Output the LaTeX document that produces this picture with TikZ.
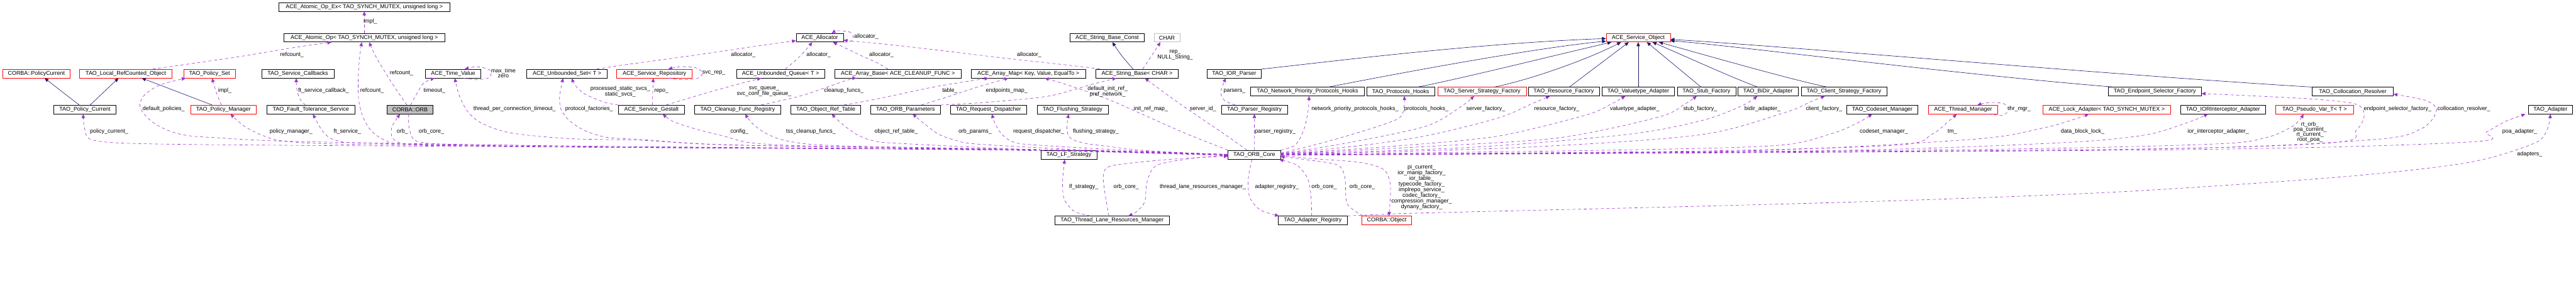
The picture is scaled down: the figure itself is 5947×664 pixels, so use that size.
\documentclass[tikz,border=0pt]{standalone}
\usepackage{fontspec}
\setmainfont{Liberation Sans}
\usetikzlibrary{arrows.meta}
\definecolor{depc}{HTML}{9A32CD}
\definecolor{inhc}{HTML}{191970}
\definecolor{greyc}{HTML}{BFBFBF}
\newcommand{\dfs}{\fontsize{13pt}{11.6pt}\selectfont}
\tikzset{
  box/.style={draw=black, line width=1pt, inner sep=0pt, minimum height=20pt, font=\dfs},
  rbox/.style={box, draw=red},
  lbl/.style={font=\dfs, inner sep=0pt, align=center},
  dep/.style={draw=depc, line width=0.9pt, dash pattern=on 7pt off 6pt, -{Triangle[length=9pt,width=8pt]}},
  inh/.style={draw=inhc, line width=0.9pt, -{Triangle[length=9pt,width=8pt]}},
  sm/.style={smooth, tension=0.5}
}
\begin{document}
\begin{tikzpicture}[x=1pt,y=-1pt]
\useasboundingbox (0,0) rectangle (5947,664);
% ---------------- nodes
\node[box, minimum width=394pt] (atomicex) at (841,16) {ACE\_Atomic\_Op\_Ex< TAO\_SYNCH\_MUTEX, unsigned long >};
\node[box, minimum width=372pt] (atomic) at (841,87) {ACE\_Atomic\_Op< TAO\_SYNCH\_MUTEX, unsigned long >};
\node[box, minimum width=109pt] (alloc) at (1892.5,87) {ACE\_Allocator};
\node[box, minimum width=172pt] (strconst) at (2556,87) {ACE\_String\_Base\_Const};
\node[box, draw=greyc, minimum width=60pt] (charn) at (2694,87) {CHAR};
\node[rbox, minimum width=148pt] (svcobj) at (3782,87) {ACE\_Service\_Object};

\node[rbox, minimum width=156pt] (polcurc) at (84,170) {CORBA::PolicyCurrent};
\node[rbox, minimum width=213pt] (localrc) at (290.5,170) {TAO\_Local\_RefCounted\_Object};
\node[rbox, minimum width=119pt] (polset) at (483.5,170) {TAO\_Policy\_Set};
\node[box, minimum width=167pt] (svccb) at (687.5,170) {TAO\_Service\_Callbacks};
\node[box, minimum width=128pt] (timeval) at (1046,170) {ACE\_Time\_Value};
\node[box, minimum width=186pt] (uset) at (1309,170) {ACE\_Unbounded\_Set< T >};
\node[rbox, minimum width=174pt] (svcrep) at (1511,170) {ACE\_Service\_Repository};
\node[box, minimum width=204pt] (uqueue) at (1802,170) {ACE\_Unbounded\_Queue< T >};
\node[box, minimum width=292pt] (abase) at (2073,170) {ACE\_Array\_Base< ACE\_CLEANUP\_FUNC >};
\node[box, minimum width=264pt] (amap) at (2374,170) {ACE\_Array\_Map< Key, Value, EqualTo >};
\node[box, minimum width=190pt] (strbase) at (2625,170) {ACE\_String\_Base< CHAR >};
\node[box, minimum width=126pt] (iorparser) at (2849,170) {TAO\_IOR\_Parser};

\node[box, minimum width=263pt] (netprio) at (3018.5,211.5) {TAO\_Network\_Priority\_Protocols\_Hooks};
\node[box, minimum width=157pt] (prothooks) at (3233.5,211.5) {TAO\_Protocols\_Hooks};
\node[rbox, minimum width=205pt] (serverfac) at (3421.5,211.5) {TAO\_Server\_Strategy\_Factory};
\node[box, minimum width=164pt] (resfac) at (3610,211.5) {TAO\_Resource\_Factory};
\node[box, minimum width=168pt] (valadapt) at (3782,211.5) {TAO\_Valuetype\_Adapter};
\node[box, minimum width=135pt] (stubfac) at (3939.5,211.5) {TAO\_Stub\_Factory};
\node[box, minimum width=139pt] (bidir) at (4081.5,211.5) {TAO\_BiDir\_Adapter};
\node[box, minimum width=198pt] (clientfac) at (4257,211.5) {TAO\_Client\_Strategy\_Factory};
\node[box, minimum width=215pt] (endpsel) at (4974.5,211.5) {TAO\_Endpoint\_Selector\_Factory};
\node[box, minimum width=187pt] (colloc) at (5431.5,211.5) {TAO\_Collocation\_Resolver};

\node[box, minimum width=144pt] (polcur) at (196,253) {TAO\_Policy\_Current};
\node[rbox, minimum width=152pt] (polman) at (516,253) {TAO\_Policy\_Manager};
\node[box, minimum width=203pt] (ftsvc) at (717.5,253) {TAO\_Fault\_Tolerance\_Service};
\node[box, fill=greyc, minimum width=105pt] (orb) at (946.5,253) {CORBA::ORB};
\node[box, minimum width=152pt] (gestalt) at (1504,253) {ACE\_Service\_Gestalt};
\node[box, minimum width=198pt] (cleanup) at (1703,253) {TAO\_Cleanup\_Func\_Registry};
\node[box, minimum width=161pt] (objref) at (1906.5,253) {TAO\_Object\_Ref\_Table};
\node[box, minimum width=161pt] (orbparams) at (2090.5,253) {TAO\_ORB\_Parameters};
\node[box, minimum width=176pt] (reqdisp) at (2282,253) {TAO\_Request\_Dispatcher};
\node[box, minimum width=164pt] (flushing) at (2476,253) {TAO\_Flushing\_Strategy};
\node[box, minimum width=152pt] (parserreg) at (2896,253) {TAO\_Parser\_Registry};
\node[box, minimum width=165pt] (codeset) at (4345.5,253) {TAO\_Codeset\_Manager};
\node[rbox, minimum width=160pt] (thrmgr) at (4532,253) {ACE\_Thread\_Manager};
\node[rbox, minimum width=295pt] (lockad) at (4863.5,253) {ACE\_Lock\_Adapter< TAO\_SYNCH\_MUTEX >};
\node[box, minimum width=196pt] (iorint) at (5132,253) {TAO\_IORInterceptor\_Adapter};
\node[rbox, minimum width=181pt] (pseudo) at (5343.5,253) {TAO\_Pseudo\_Var\_T< T >};
\node[box, minimum width=102pt] (adapter) at (5888,253) {TAO\_Adapter};

\node[box, minimum width=129pt, minimum height=21pt] (lfstrat) at (2467.5,357.5) {TAO\_LF\_Strategy};
\node[box, minimum width=121pt, minimum height=21pt] (core) at (2895.5,357.5) {TAO\_ORB\_Core};

\node[box, minimum width=265pt] (tlrm) at (2567.5,509) {TAO\_Thread\_Lane\_Resources\_Manager};
\node[box, minimum width=159pt] (adreg) at (3030.5,509) {TAO\_Adapter\_Registry};
\node[rbox, minimum width=115pt] (corbaobj) at (3201.5,509) {CORBA::Object};

% ---------------- inheritance edges
\draw[inh] ([xshift=-13pt]polcur.north) -- ([xshift=19pt]polcurc.south);
\draw[inh] ([xshift=12pt]polcur.north) -- ([xshift=-17pt]localrc.south);
\draw[inh] ([xshift=-26pt]polman.north) -- ([xshift=37pt]localrc.south);
\draw[inh] ([xshift=-9pt]strbase.north) .. controls (2590,130) .. ([xshift=12pt]strconst.south);
\draw[inh] (iorparser.north east) .. controls (3050,145) and (3400,100) .. ([yshift=-2pt]svcobj.west);
\draw[inh] ([xshift=48.5pt]netprio.north) .. controls (3250,165) and (3550,110) .. ([yshift=-8pt]svcobj.west);
\draw[inh] ([xshift=39.5pt]prothooks.north) .. controls (3380,180) and (3600,125) .. ([xshift=-62pt]svcobj.south);
\draw[inh] ([xshift=28.5pt]serverfac.north) .. controls (3550,180) and (3680,130) .. ([xshift=-40pt]svcobj.south);
\draw[inh] ([xshift=13pt]resfac.north) -- ([xshift=-22pt]svcobj.south);
\draw[inh] (valadapt.north) -- (svcobj.south);
\draw[inh] ([xshift=-12.5pt]stubfac.north) -- ([xshift=20pt]svcobj.south);
\draw[inh] ([xshift=-23.5pt]bidir.north) .. controls (4000,180) and (3880,125) .. ([xshift=33pt]svcobj.south);
\draw[inh] ([xshift=-39pt]clientfac.north) .. controls (4120,180) and (3930,125) .. ([xshift=48pt]svcobj.south);
\draw[inh] ([xshift=-94.5pt]endpsel.north) .. controls (4500,170) and (4000,105) .. ([yshift=-7pt]svcobj.east);
\draw[inh] (colloc.north west) .. controls (4900,175) and (4100,105) .. ([yshift=-4pt]svcobj.east);

% ---------------- usage edges, upper part
\draw[dep] (atomic.north) -- (atomicex.south);
\draw[dep] plot[sm] coordinates {([xshift=62pt]localrc.north) (420,150) (557,130) (690,108) ([xshift=-76pt]atomic.south)};
\draw[dep] plot[sm] coordinates {([xshift=-7pt]orb.north) (907,195) (870,135) ([xshift=11pt]atomic.south)};
\draw[dep] plot[sm] coordinates {([xshift=-5pt]polman.north) (500,215) ([xshift=6pt]polset.south)};
\draw[dep] plot[sm] coordinates {([xshift=-12.5pt]ftsvc.north) (692,228) (685,205) ([xshift=-3.5pt]svccb.south)};
\draw[dep] plot[sm] coordinates {([xshift=1.5pt]orb.north) (960,220) (978,192) ([xshift=-43pt]timeval.south)};
\draw[dep] plot[sm] coordinates {([xshift=24pt]timeval.south) (1100,184) (1128,180) (1134,170) (1128,160) (1100,154) ([xshift=27pt]timeval.north)};
\draw[dep] plot[sm] coordinates {(gestalt.north west) (1395,236) (1350,217) (1328,197) ([xshift=11pt]uset.south)};
\draw[dep] ([xshift=2pt]gestalt.north) -- ([xshift=-3pt]svcrep.south);
\draw[dep] plot[sm] coordinates {([xshift=31pt]svcrep.south) (1575,184) (1610,181) (1622,168) (1605,156) (1570,154) ([xshift=32pt]svcrep.north)};
\draw[dep] plot[sm] coordinates {([xshift=-25pt]uset.north east) (1440,150) (1600,128) (1750,106) ([yshift=-7pt]alloc.west)};
\draw[dep] plot[sm] coordinates {([xshift=11pt]uqueue.north) (1838,138) (1858,118) ([xshift=-17.5pt]alloc.south)};
\draw[dep] plot[sm] coordinates {(alloc.south east) (1962,96) (1970,85) (1962,74) (1935,71) ([xshift=27.5pt]alloc.north)};
\draw[dep] plot[sm] coordinates {([xshift=-23pt]abase.north) (2025,145) (1985,127) (1950,110) ([xshift=30.5pt]alloc.south)};
\draw[dep] plot[sm] coordinates {([xshift=10pt]strbase.north west) (2480,152) (2300,132) (2100,108) (1990,97) ([yshift=-6pt]alloc.east)};
\draw[dep] plot[sm] coordinates {([xshift=34pt]gestalt.north) (1650,209) ([xshift=-45pt]uqueue.south)};
\draw[dep] plot[sm] coordinates {([xshift=54pt]cleanup.north) (1853,220) (1953,186) ([xshift=-96pt]abase.south)};
\draw[dep] plot[sm] coordinates {([xshift=41.5pt]objref.north) (2027,228) (2160,200) ([xshift=-92pt]amap.south)};
\draw[dep] plot[sm] coordinates {([xshift=36.5pt]orbparams.north) (2193,222) (2260,200) ([xshift=-46pt]amap.south)};
\draw[dep] plot[sm] coordinates {(orbparams.north east) (2280,236) (2420,222) (2520,195) ([xshift=-48pt]strbase.south)};
\draw[dep] ([xshift=13pt]strbase.north) -- ([xshift=-15pt]charn.south);
\draw[dep] plot[sm] coordinates {([xshift=-44pt]parserreg.north) (2827,232) (2818,212) ([xshift=-19pt]iorparser.south)};

% ---------------- usage edges from TAO_ORB_Core, left
\draw[dep] plot[sm] coordinates {(core.west) (2400,346) (1400,340) (600,335) (300,331) (210,322) (195,295) ([xshift=-4pt]polcur.south)};
\draw[dep] plot[sm] coordinates {([yshift=1pt]core.west) (2400,346) (1400,338) (700,327) (500,318) (433,313) (390,302) (355,284) (330,260) (323,240) (335,218) (370,196) ([xshift=-55pt]polset.south)};
\draw[dep] plot[sm] coordinates {([yshift=1pt]core.west) (2400,346) (1400,340) (800,333) (657,326) (607,313) (565,292) ([xshift=16pt]polman.south)};
\draw[dep] plot[sm] coordinates {(core.west) (2400,346) (1400,340) (860,331) (775,324) (745,303) ([xshift=5pt]ftsvc.south)};
\draw[dep] plot[sm] coordinates {(core.west) (2400,346) (1400,340) (1000,335) (925,330) (905,316) (905,292) ([xshift=-23pt]orb.south)};
\draw[dep] plot[sm] coordinates {([xshift=-3pt]orb.south) (944,292) (952,318) (970,328) (1040,333) (1400,338) (2400,348) ([yshift=-2pt]core.west)};
\draw[dep] plot[sm] coordinates {([yshift=1pt]core.west) (2400,346) (1400,340) (950,333) (890,324) (857,302) (838,270) (828,230) (827,180) (830,135) ([xshift=-6pt]atomic.south)};
\draw[dep] plot[sm] coordinates {(core.west) (2400,346) (1700,335) (1480,324) (1313,320) (1180,307) (1113,285) (1080,258) (1060,220) ([xshift=4pt]timeval.south)};
\draw[dep] plot[sm] coordinates {(core.west) (2400,346) (1700,335) (1480,322) (1400,317) (1347,300) (1313,277) (1295,252) (1292,222) ([xshift=-9pt]uset.south)};
\draw[dep] plot[sm] coordinates {(core.west) (2400,346) (1900,338) (1737,330) (1670,314) (1603,297) (1553,280) ([xshift=26pt]gestalt.south)};
\draw[dep] plot[sm] coordinates {(core.west) (2400,346) (2000,338) (1870,333) (1803,322) (1763,305) (1737,285) ([xshift=17pt]cleanup.south)};
\draw[dep] plot[sm] coordinates {(core.west) (2400,346) (2093,332) (2020,326) (1977,310) (1943,285) ([xshift=13.5pt]objref.south)};
\draw[dep] plot[sm] coordinates {(core.west) (2500,346) (2260,333) (2210,325) (2167,310) (2133,285) ([xshift=16.5pt]orbparams.south)};
\draw[dep] plot[sm] coordinates {(core.west) (2600,347) (2380,334) (2337,327) (2313,310) (2297,285) ([xshift=8pt]reqdisp.south)};
\draw[dep] plot[sm] coordinates {(core.west) (2650,348) (2550,337) (2500,330) (2470,318) (2463,295) ([xshift=-9pt]flushing.south)};
\draw[dep] plot[sm] coordinates {([xshift=-7.5pt]tlrm.north) (2550,440) (2548,400) (2570,382) (2700,368) ([yshift=-3pt]core.west)};
\draw[dep] plot[sm] coordinates {([yshift=-1pt]core.west) (2750,366) (2670,382) (2648,420) (2643,465) (2625,488) ([xshift=37.5pt]tlrm.north)};
\draw[dep] plot[sm] coordinates {([xshift=-50pt]tlrm.north) (2480,488) (2457,460) (2453,420) ([xshift=-9.5pt]lfstrat.south)};
\draw[dep] (core.north) -- (parserreg.south);
\draw[dep] plot[sm] coordinates {([xshift=-17pt]core.north) (2830,312) (2720,237) ([xshift=18pt]strbase.south)};
\draw[dep] plot[sm] coordinates {(core.north west) (2730,305) (2560,230) (2470,198) ([xshift=38pt]amap.south)};

% ---------------- usage edges from TAO_ORB_Core, right
\draw[dep] plot[sm] coordinates {(core.north east) (2990,335) (3010,300) (3020,255) ([xshift=3.5pt]netprio.south)};
\draw[dep] plot[sm] coordinates {([yshift=4pt]core.east) (3060,328) (3180,292) (3235,268) ([xshift=8.5pt]prothooks.south)};
\draw[dep] plot[sm] coordinates {([yshift=3pt]core.east) (3100,332) (3290,292) (3370,248) ([xshift=-18.5pt]serverfac.south)};
\draw[dep] plot[sm] coordinates {([yshift=3pt]core.east) (3150,335) (3300,312) (3460,272) (3540,238) ([xshift=-32pt]resfac.south)};
\draw[dep] plot[sm] coordinates {([yshift=2pt]core.east) (3250,335) (3460,314) (3660,266) (3720,240) ([xshift=-30pt]valadapt.south)};
\draw[dep] plot[sm] coordinates {([yshift=2pt]core.east) (3300,338) (3600,318) (3830,270) (3890,240) ([xshift=-22.5pt]stubfac.south)};
\draw[dep] plot[sm] coordinates {([yshift=2pt]core.east) (3400,340) (3760,310) (3930,278) (4020,245) ([xshift=-24.5pt]bidir.south)};
\draw[dep] plot[sm] coordinates {([yshift=1pt]core.east) (3500,341) (3920,312) (4120,260) (4180,235) ([xshift=-44pt]clientfac.south)};
\draw[dep] plot[sm] coordinates {([yshift=1pt]core.east) (3700,347) (4100,336) (4230,308) (4290,283) ([xshift=-23.5pt]codeset.south)};
\draw[dep] plot[sm] coordinates {(core.east) (3900,349) (4380,335) (4460,310) (4495,283) ([xshift=-15pt]thrmgr.south)};
\draw[dep] plot[sm] coordinates {([xshift=-22pt]thrmgr.south east) (4625,266) (4636,253) (4625,239) (4590,237) ([xshift=33pt]thrmgr.north)};
\draw[dep] plot[sm] coordinates {(core.east) (4000,349) (4550,322) (4710,297) (4790,275) ([xshift=-41.5pt]lockad.south)};
\draw[dep] plot[sm] coordinates {(core.east) (4200,348) (4750,330) (4950,312) (5050,283) ([xshift=-35pt]iorint.south)};
\draw[dep] plot[sm] coordinates {(core.east) (4500,346) (5100,333) (5230,318) (5295,290) ([xshift=-25.5pt]pseudo.south)};
\draw[dep] plot[sm] coordinates {(core.east) (4800,346) (5380,330) (5440,300) (5458,265) (5437,240) (5330,228) ([yshift=-4.5pt]endpsel.east)};
\draw[dep] plot[sm] coordinates {(core.east) (4900,345) (5470,323) (5590,297) (5625,255) (5600,232) ([yshift=-6pt]colloc.east)};
\draw[dep] plot[sm] coordinates {([yshift=-1pt]core.east) (5000,346) (5700,328) (5740,305) (5785,280) ([xshift=-58pt]adapter.south)};
\draw[dep] plot[sm] coordinates {(adreg.north east) (3240,493) (3440,488) (3930,476) (4420,462) (4910,442) (5410,408) (5700,375) (5850,331) (5880,300) (adapter.south)};
\draw[dep] plot[sm] coordinates {([xshift=-5pt]core.south) (2882,410) (2885,455) (2910,485) ([xshift=2pt]adreg.north west)};
\draw[dep] plot[sm] coordinates {([xshift=-2.5pt]adreg.north) (3027,460) (3020,415) (2995,382) ([xshift=-3pt]core.south east)};
\draw[dep] plot[sm] coordinates {([xshift=3pt]corbaobj.north west) (3110,470) (3105,410) (3090,382) (3040,372) ([yshift=-4pt]core.east)};
\draw[dep] plot[sm] coordinates {([yshift=-2pt]core.east) (3040,367) (3140,375) (3195,392) (3210,430) ([xshift=5pt]corbaobj.north)};

% ---------------- labels
\node[lbl] (l1) at (855,50) {impl\_};
\node[lbl] (l2) at (674,126) {refcount\_};
\node[lbl] (l3) at (927,169) {refcount\_};
\node[lbl] (l4) at (859,210) {refcount\_};
\node[lbl] (l5) at (519,210) {impl\_};
\node[lbl] (l6) at (378,251) {default\_policies\_};
\node[lbl] (l7) at (252,304) {policy\_current\_};
\node[lbl] (l8) at (672,304) {policy\_manager\_};
\node[lbl] (l9) at (747,210) {ft\_service\_callback\_};
\node[lbl] (l10) at (802,304) {ft\_service\_};
\node[lbl] (l11) at (929,304) {orb\_};
\node[lbl] (l12) at (996,304) {orb\_core\_};
\node[lbl] (l13) at (1003,210) {timeout\_};
\node[lbl] (l14) at (1162,169) {max\_time\\zero};
\node[lbl] (l15) at (1188,251) {thread\_per\_connection\_timeout\_};
\node[lbl] (l16) at (1360,251) {protocol\_factories\_};
\node[lbl] (l17) at (1432,211) {processed\_static\_svcs\_\\static\_svcs\_};
\node[lbl] (l18) at (1527,210) {repo\_};
\node[lbl] (l19) at (1648,169) {svc\_rep\_};
\node[lbl] (l20) at (1716,126) {allocator\_};
\node[lbl] (l21) at (1890,126) {allocator\_};
\node[lbl] (l22) at (2000,85) {allocator\_};
\node[lbl] (l23) at (2035,126) {allocator\_};
\node[lbl] (l24) at (2376,126) {allocator\_};
\node[lbl] (l25) at (1764,211) {svc\_queue\_\\svc\_conf\_file\_queue\_};
\node[lbl] (l26) at (1948,210) {cleanup\_funcs\_};
\node[lbl] (l27) at (1707,304) {config\_};
\node[lbl] (l28) at (1872,304) {tss\_cleanup\_funcs\_};
\node[lbl] (l29) at (2193,210) {table\_};
\node[lbl] (l30) at (2324,210) {endpoints\_map\_};
\node[lbl] (l31) at (2069,304) {object\_ref\_table\_};
\node[lbl] (l32) at (2251,304) {orb\_params\_};
\node[lbl] (l33) at (2398,304) {request\_dispatcher\_};
\node[lbl] (l34) at (2557,211) {default\_init\_ref\_\\pref\_network\_};
\node[lbl] (l35) at (2713,127) {rep\_\\NULL\_String\_};
\node[lbl] (l36) at (2657,251) {init\_ref\_map\_};
\node[lbl] (l37) at (2777,251) {server\_id\_};
\node[lbl] (l38) at (2530,304) {flushing\_strategy\_};
\node[lbl] (l39) at (2850,210) {parsers\_};
\node[lbl] (l40) at (2944,304) {parser\_registry\_};
\node[lbl] (l41) at (2502,432) {lf\_strategy\_};
\node[lbl] (l42) at (2600,432) {orb\_core\_};
\node[lbl] (l43) at (2777,432) {thread\_lane\_resources\_manager\_};
\node[lbl] (l44) at (2948,432) {adapter\_registry\_};
\node[lbl] (l45) at (3057,432) {orb\_core\_};
\node[lbl] (l46) at (3145,432) {orb\_core\_};
\node[lbl] (l47) at (3282,432) {pi\_current\_\\ior\_manip\_factory\_\\ior\_table\_\\typecode\_factory\_\\implrepo\_service\_\\codec\_factory\_\\compression\_manager\_\\dynany\_factory\_};
\node[lbl] (l48) at (3128,251) {network\_priority\_protocols\_hooks\_};
\node[lbl] (l49) at (3293,251) {protocols\_hooks\_};
\node[lbl] (l50) at (3430,251) {server\_factory\_};
\node[lbl] (l51) at (3594,251) {resource\_factory\_};
\node[lbl] (l52) at (3774,251) {valuetype\_adapter\_};
\node[lbl] (l53) at (3925,251) {stub\_factory\_};
\node[lbl] (l54) at (4069,251) {bidir\_adapter\_};
\node[lbl] (l55) at (4211,251) {client\_factory\_};
\node[lbl] (l56) at (4349,304) {codeset\_manager\_};
\node[lbl] (l57) at (4507,304) {tm\_};
\node[lbl] (l58) at (4662,251) {thr\_mgr\_};
\node[lbl] (l59) at (4808,304) {data\_block\_lock\_};
\node[lbl] (l60) at (5121,304) {ior\_interceptor\_adapter\_};
\node[lbl] (l61) at (5333,305) {rt\_orb\_\\poa\_current\_\\rt\_current\_\\root\_poa\_};
\node[lbl] (l62) at (5535,251) {endpoint\_selector\_factory\_};
\node[lbl] (l63) at (5688,251) {collocation\_resolver\_};
\node[lbl] (l64) at (5817,304) {poa\_adapter\_};
\node[lbl] (l65) at (5840,356) {adapters\_};
\end{tikzpicture}
\end{document}
